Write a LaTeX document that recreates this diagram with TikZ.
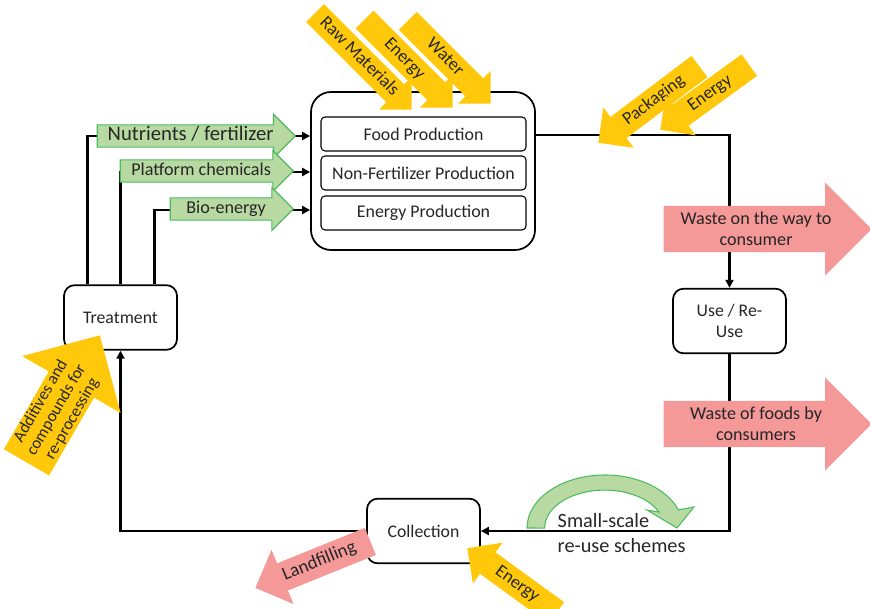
\documentclass[tikz,border=0pt]{standalone}
\usepackage{fontspec}
\setmainfont{Carlito}
\usetikzlibrary{shapes.arrows,arrows.meta,calc}
\definecolor{inputyellow}{RGB}{255,200,10}
\definecolor{losspink}{RGB}{244,152,152}
\definecolor{recovgreen}{RGB}{184,218,162}
\definecolor{recovline}{RGB}{76,187,95}
\definecolor{txt}{RGB}{38,38,38}
\tikzset{
    stage/.style ={
        draw,
        rounded corners=8pt,
        line width=1.3pt,
        fill=white,
        text=txt,
        align=center,
        minimum width=84.75pt,
        minimum height=48.5pt,
        font=\fontsize{13.3}{15.8}\selectfont
    },
    part/.style ={
        draw,
        rounded corners=3pt,
        line width=0.8pt,
        text=txt,
        minimum width=153.75pt,
        minimum height=25.5pt,
        font=\fontsize{13.4}{16}\selectfont
    },
    flow/.style ={
        line width=1.8pt,
        -{Triangle[length=6pt,width=6pt]}
    },
    input/.style ={
        single arrow,
        fill=inputyellow,
        text=txt,
        text height=9.5pt,
        text depth=3pt,
        inner xsep=2pt,
        inner ysep=3pt,
        single arrow head extend=8pt,
        font=\fontsize{13.5}{16}\selectfont
    },
    loss/.style ={
        single arrow,
        fill=losspink,
        text=txt,
        align=center,
        font=\fontsize{13.6}{15.8}\selectfont
    },
    recover/.style ={
        single arrow,
        fill=recovgreen,
        draw=recovline,
        line width=0.8pt,
        text=txt,
        text height=10.5pt,
        text depth=3.5pt,
        inner sep=1pt
    }
}

\begin{document}
\begin{tikzpicture}[x=0.75pt,y=-0.75pt]
    \useasboundingbox (0,0) rectangle (870,609);

    % production
    \node[draw, rounded corners=15pt, line width=1.3pt, minimum width=168pt, minimum height=118.5pt] (prod) at (423,171) {};
    \node[part] (food) at (423.5,134) {Food Production};
    \node[part] (nonfert) at (423.5,173) {Non-Fertilizer Production};
    \node[part] (energy) at (423.5,213) {Energy Production};

    % stages of the loop
    \node[stage] (treat) at (120.5,317.5) {Treatment};
    \node[stage] (use) at (729.5,321) {Use / Re-\\Use};
    \node[stage] (coll) at (423.5,531) {Collection};

    \draw[flow] (prod.east |- 0,135) -| (use.north);
    \draw[flow] (use.south) |- (coll.east);
    \draw[flow] (coll.west) -| (treat.south);
    \draw[flow] ($(treat.north)+(-33,0)$) |- (prod.west |- 0,136);
    \draw[flow] (treat.north) |- (prod.west |- 0,172);
    \draw[flow] ($(treat.north)+(34,0)$) |- (prod.west |- 0,210);

    % recovered products
    \node[recover, anchor=tip, minimum height=148.5pt, single arrow head extend=7.9pt,
          font=\fontsize{15.5}{18}\selectfont] (nutr) at (296,136) {Nutrients / fertilizer};
    \node[recover, anchor=tip, minimum height=129.75pt, single arrow head extend=6.9pt,
          font=\fontsize{13.6}{16}\selectfont] (plat) at (294,171) {Platform chemicals};
    \node[recover, anchor=tip, minimum height=92.25pt, single arrow head extend=7.6pt,
          font=\fontsize{13.6}{16}\selectfont] (bio) at (294,209) {Bio-energy};

    % inputs
    \node[input, anchor=tip, rotate=-45, minimum height=102.5pt] (raw) at (412,110) {Raw Materials};
    \node[input, anchor=tip, rotate=-45, minimum height=93.5pt] (prodenergy) at (453,108) {Energy};
    \node[input, anchor=tip, rotate=-45, minimum height=88pt] (water) at (491,104) {Water};
    \node[input, anchor=tip, rotate=37, shape border rotate=180, minimum height=95pt,
          inner ysep=3.5pt, single arrow head extend=9pt] (pack) at (598,143) {Packaging};
    \node[input, anchor=tip, rotate=36, shape border rotate=180, minimum height=82.5pt,
          inner ysep=3.5pt, single arrow head extend=9pt] (usenergy) at (660,130) {Energy};
    \node[input, anchor=tip, rotate=-36, shape border rotate=180, minimum height=82.5pt,
          inner ysep=3.5pt, single arrow head extend=9pt] (collenergy) at (467,548) {Energy};
    \node[input, anchor=tip, rotate=60, minimum height=110pt, align=center,
          text height=, text depth=, inner ysep=0.5pt, single arrow head extend=23pt,
          font=\fontsize{12.5}{13.5}\selectfont] (additives) at (100,335) {Additives and\\compounds for\\re-processing};

    % losses
    \node[loss, anchor=tip, minimum height=156pt, inner ysep=4.5pt, single arrow head extend=17.5pt] (wayloss) at (872,229) {Waste on the way to\\consumer};
    \node[loss, anchor=tip, minimum height=156pt, inner ysep=4.5pt, single arrow head extend=17.5pt] (userloss) at (872,424) {Waste of foods by\\consumers};
    \node[loss, anchor=tip, rotate=22, shape border rotate=180, minimum height=93pt,
          text height=9.5pt, text depth=3pt, inner ysep=4.5pt, single arrow head extend=11pt,
          font=\fontsize{14}{16}\selectfont] (landfill) at (255,588) {Landfilling};

    % small-scale re-use
    \filldraw[fill=recovgreen, draw=recovline, line width=0.8pt]
        (527,528) arc[start angle=180, end angle=340, x radius=78, y radius=53]
        -- (694,507) -- (677,528) -- (647,510) -- (659,512)
        arc[start angle=335, end angle=180, x radius=60, y radius=38] -- cycle;
    \node[anchor=west, align=left, text=txt, font=\fontsize{15.2}{19}\selectfont] (smallscale) at (553,533) {Small-scale\\re-use schemes};
\end{tikzpicture}
\end{document}
